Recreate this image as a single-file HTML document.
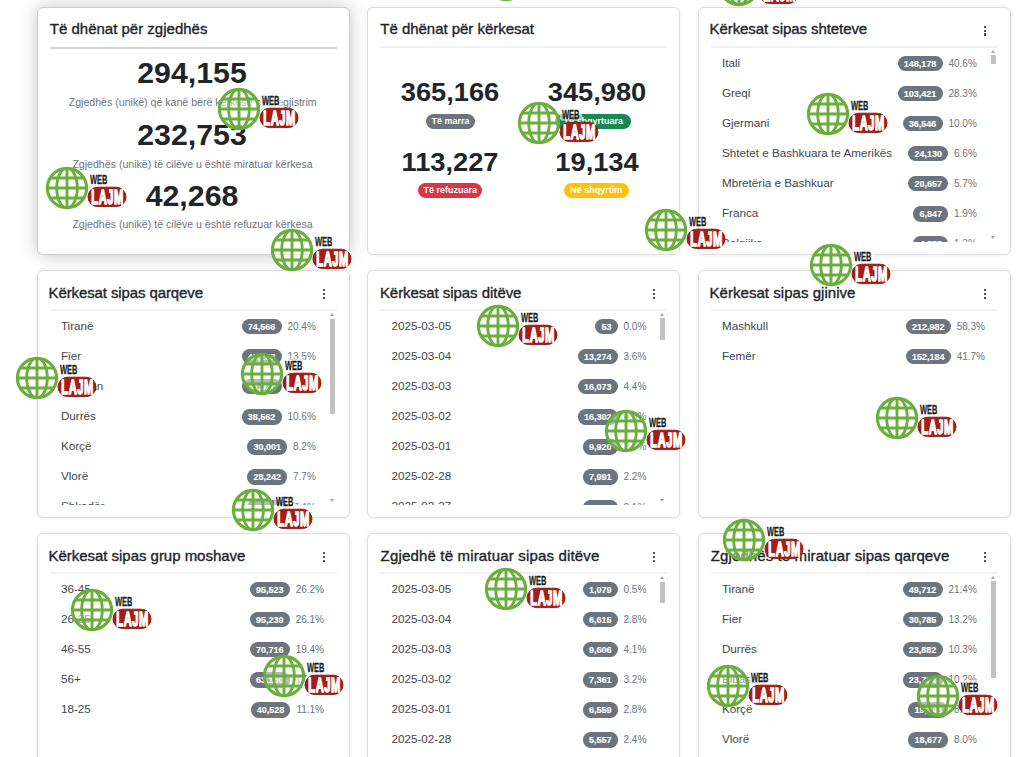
<!DOCTYPE html><html><head><meta charset="utf-8"><style>
html,body{margin:0;padding:0;background:#fff;width:1024px;height:757px;overflow:hidden;position:relative}
*{box-sizing:border-box}
.t{position:absolute;white-space:nowrap;line-height:1;font-family:"Liberation Sans",sans-serif}
.card{position:absolute;background:#fff;border:1px solid #dedede;border-radius:6px;box-shadow:0 0 5px rgba(0,0,0,.07)}
.card.sh{border-color:#cdcdcd;box-shadow:0 0 18px rgba(0,0,0,.24)}
.dv{position:absolute}
.dot{position:absolute;width:2.2px;height:2.2px;background:#343a40;border-radius:0.4px}
.bp{position:absolute}
.clip{position:absolute;overflow:hidden}
.it{font-size:11.7px;color:#41474e}
.grp{position:absolute;display:flex;align-items:center;height:15.3px;white-space:nowrap;font-family:"Liberation Sans",sans-serif}
.bd{display:inline-block;height:15.3px;line-height:16px;padding:0 6.2px;border-radius:7.65px;background:#6c757d;color:#fff;font-weight:700;font-size:9px;-webkit-text-stroke:0.15px #fff}
.pcs{margin-left:5.9px;font-size:10px;color:#6c757d;line-height:15.3px}
.thumb{position:absolute;width:5.4px;background:#c1c1c1}
.arr{position:absolute;width:0;height:0;border-left:2.5px solid transparent;border-right:2.5px solid transparent}
.arr.up{border-bottom:3px solid #a3a3a3}
.arr.dn{border-top:3px solid #a3a3a3}
.wm{position:absolute;width:82px;height:44px;overflow:visible}
</style></head><body>
<svg width="0" height="0" style="position:absolute"><defs>
<g id="wmg">
 <circle cx="0" cy="0" r="19.6" fill="rgba(255,255,255,0.5)" stroke="#6aae3d" stroke-width="3.1"/>
 <clipPath id="gc"><circle cx="0" cy="0" r="19.6"/></clipPath>
 <g clip-path="url(#gc)" stroke="#6aae3d" stroke-width="2.9" fill="none">
  <line x1="-22" y1="-10" x2="22" y2="-10"/>
  <line x1="-22" y1="0" x2="22" y2="0"/>
  <line x1="-22" y1="10" x2="22" y2="10"/>
  <line x1="0" y1="-22" x2="0" y2="22"/>
  <ellipse cx="0" cy="0" rx="10.3" ry="20"/>
 </g>
 <rect x="20.8" y="-15.8" width="22.4" height="13.6" rx="3" fill="rgba(255,255,255,0.6)" stroke="rgba(0,0,0,0.05)" stroke-width="0.6"/>
 <text x="0" y="0" transform="translate(22.9,-4.2) scale(0.6,1)" font-family="Liberation Sans" font-weight="700" font-size="12.5" fill="#1a1a1a" stroke="#1a1a1a" stroke-width="0.25">WEB</text>
 <rect x="21.0" y="-0.8" width="38.0" height="19.4" rx="9.7" fill="#a51d14" stroke="#821911" stroke-width="0.9"/>
 <text x="0" y="0" transform="translate(24.2,16.1) scale(0.53,1)" font-family="Liberation Sans" font-weight="700" font-size="21" letter-spacing="1.2" fill="#fff" stroke="#fff" stroke-width="1.6">LAJM</text>
</g></defs></svg>

<div class="card sh" style="left:37px;top:7px;width:313px;height:248px"></div>
<div class="t" style="left:49.80px;top:21.30px;font-size:15px;font-weight:400;color:#212529;letter-spacing:0px;-webkit-text-stroke:0.35px #212529;">Të dhënat për zgjedhës</div>
<div class="dv" style="left:49.8px;top:46.5px;width:286.9px;height:2px;background:#d4d4d4"></div>
<div class="t" style="left:192.35px;transform:translateX(-50%) scaleX(1.06);top:58.89px;font-size:28.6px;font-weight:700;color:#212529;letter-spacing:0px;">294,155</div>
<div class="t" style="left:192.35px;transform:translateX(-50%) scaleX(1.06);top:121.09px;font-size:28.6px;font-weight:700;color:#212529;letter-spacing:0px;">232,753</div>
<div class="t" style="left:192.35px;transform:translateX(-50%) scaleX(1.06);top:181.79px;font-size:28.6px;font-weight:700;color:#212529;letter-spacing:0px;">42,268</div>
<div class="t" style="left:192.65px;transform:translateX(-50%);top:96.93px;font-size:10.6px;font-weight:400;color:#6c757d;letter-spacing:0px;">Zgjedhës (unikë) që kanë bërë kërkesë për regjistrim</div>
<div class="t" style="left:192.50px;transform:translateX(-50%);top:158.63px;font-size:10.6px;font-weight:400;color:#6c757d;letter-spacing:0px;">Zgjedhës (unikë) të cilëve u është miratuar kërkesa</div>
<div class="t" style="left:192.50px;transform:translateX(-50%);top:219.23px;font-size:10.6px;font-weight:400;color:#6c757d;letter-spacing:0px;">Zgjedhës (unikë) të cilëve u është refuzuar kërkesa</div>
<div class="card" style="left:367px;top:7px;width:313px;height:248px"></div>
<div class="t" style="left:380.30px;top:21.30px;font-size:15px;font-weight:400;color:#212529;letter-spacing:-0.03px;-webkit-text-stroke:0.35px #212529;">Të dhënat për kërkesat</div>
<div class="dv" style="left:380.3px;top:46.0px;width:286.9px;height:2px;background:#eff1f3"></div>
<div class="t" style="left:450.25px;transform:translateX(-50%) scaleX(1.025);top:78.58px;font-size:26.6px;font-weight:700;color:#212529;letter-spacing:0px;">365,166</div>
<div class="t" style="left:596.70px;transform:translateX(-50%) scaleX(1.025);top:78.58px;font-size:26.6px;font-weight:700;color:#212529;letter-spacing:0px;">345,980</div>
<div class="t" style="left:450.40px;transform:translateX(-50%) scaleX(1.025);top:148.98px;font-size:26.6px;font-weight:700;color:#212529;letter-spacing:0px;">113,227</div>
<div class="t" style="left:596.95px;transform:translateX(-50%) scaleX(1.025);top:148.98px;font-size:26.6px;font-weight:700;color:#212529;letter-spacing:0px;">19,134</div>
<div class="bp" style="left:426.10px;top:113.50px;width:48.80px;height:15.10px;background:#6c757d;border-radius:7.55px"></div>
<div class="t" style="left:450.50px;transform:translateX(-50%);top:116.90px;font-size:9px;font-weight:700;color:#fff;letter-spacing:0px;">Të marra</div>
<div class="bp" style="left:555.20px;top:113.60px;width:76.00px;height:15.10px;background:#198754;border-radius:7.55px"></div>
<div class="t" style="left:593.20px;transform:translateX(-50%);top:117.00px;font-size:9px;font-weight:700;color:#fff;letter-spacing:0px;">Të shqyrtuara</div>
<div class="bp" style="left:418.20px;top:182.60px;width:64.10px;height:15.60px;background:#dc3545;border-radius:7.80px"></div>
<div class="t" style="left:450.25px;transform:translateX(-50%);top:186.37px;font-size:9px;font-weight:700;color:#fff;letter-spacing:0px;">Të refuzuara</div>
<div class="bp" style="left:564.00px;top:182.60px;width:64.60px;height:15.60px;background:#ffc107;border-radius:7.80px"></div>
<div class="t" style="left:596.30px;transform:translateX(-50%);top:186.37px;font-size:9px;font-weight:700;color:#fff;letter-spacing:0px;">Në shqyrtim</div>
<div class="card" style="left:698px;top:7px;width:313px;height:248px"></div>
<div class="t" style="left:709.50px;top:21.30px;font-size:15px;font-weight:400;color:#212529;letter-spacing:-0.07px;-webkit-text-stroke:0.35px #212529;">Kërkesat sipas shteteve</div>
<div class="dv" style="left:710.8px;top:46.0px;width:286.9px;height:2px;background:#eff1f3"></div>
<div class="dot" style="left:983.80px;top:25.90px"></div>
<div class="dot" style="left:983.80px;top:29.60px"></div>
<div class="dot" style="left:983.80px;top:33.40px"></div>
<div class="clip" style="left:710.8px;top:48.50px;width:286.9px;height:193.20px">
<div class="t it" style="left:11.10px;top:8.20px">Itali</div>
<div class="grp" style="right:20.90px;top:7.30px"><span class="bd">148,178</span><span class="pcs">40.6%</span></div>
<div class="t it" style="left:11.10px;top:38.30px">Greqi</div>
<div class="grp" style="right:20.90px;top:37.40px"><span class="bd">103,421</span><span class="pcs">28.3%</span></div>
<div class="t it" style="left:11.10px;top:68.40px">Gjermani</div>
<div class="grp" style="right:20.90px;top:67.50px"><span class="bd">36,546</span><span class="pcs">10.0%</span></div>
<div class="t it" style="left:11.10px;top:98.50px">Shtetet e Bashkuara te Amerikës</div>
<div class="grp" style="right:20.90px;top:97.60px"><span class="bd">24,130</span><span class="pcs">6.6%</span></div>
<div class="t it" style="left:11.10px;top:128.60px">Mbretëria e Bashkuar</div>
<div class="grp" style="right:20.90px;top:127.70px"><span class="bd">20,657</span><span class="pcs">5.7%</span></div>
<div class="t it" style="left:11.10px;top:158.70px">Franca</div>
<div class="grp" style="right:20.90px;top:157.80px"><span class="bd">6,847</span><span class="pcs">1.9%</span></div>
<div class="t it" style="left:11.10px;top:188.80px">Belgjika</div>
<div class="grp" style="right:20.90px;top:187.90px"><span class="bd">4,883</span><span class="pcs">1.3%</span></div>
</div>
<div class="arr up" style="left:990.80px;top:50.10px"></div>
<div class="arr dn" style="left:990.80px;top:235.50px"></div>
<div class="thumb" style="left:990.60px;top:55.40px;height:8.30px"></div>
<div class="card" style="left:37px;top:270px;width:313px;height:248px"></div>
<div class="t" style="left:48.60px;top:284.50px;font-size:15px;font-weight:400;color:#212529;letter-spacing:-0.11px;-webkit-text-stroke:0.35px #212529;">Kërkesat sipas qarqeve</div>
<div class="dv" style="left:49.8px;top:309.2px;width:286.9px;height:2px;background:#eff1f3"></div>
<div class="dot" style="left:322.80px;top:289.10px"></div>
<div class="dot" style="left:322.80px;top:292.80px"></div>
<div class="dot" style="left:322.80px;top:296.60px"></div>
<div class="clip" style="left:49.8px;top:311.70px;width:286.9px;height:193.20px">
<div class="t it" style="left:11.10px;top:8.20px">Tiranë</div>
<div class="grp" style="right:20.90px;top:7.30px"><span class="bd">74,566</span><span class="pcs">20.4%</span></div>
<div class="t it" style="left:11.10px;top:38.30px">Fier</div>
<div class="grp" style="right:20.90px;top:37.40px"><span class="bd">49,298</span><span class="pcs">13.5%</span></div>
<div class="t it" style="left:11.10px;top:68.40px">Elbasan</div>
<div class="grp" style="right:20.90px;top:67.50px"><span class="bd">41,020</span><span class="pcs">11.2%</span></div>
<div class="t it" style="left:11.10px;top:98.50px">Durrës</div>
<div class="grp" style="right:20.90px;top:97.60px"><span class="bd">38,562</span><span class="pcs">10.6%</span></div>
<div class="t it" style="left:11.10px;top:128.60px">Korçë</div>
<div class="grp" style="right:20.90px;top:127.70px"><span class="bd">30,001</span><span class="pcs">8.2%</span></div>
<div class="t it" style="left:11.10px;top:158.70px">Vlorë</div>
<div class="grp" style="right:20.90px;top:157.80px"><span class="bd">28,242</span><span class="pcs">7.7%</span></div>
<div class="t it" style="left:11.10px;top:188.80px">Shkodër</div>
<div class="grp" style="right:20.90px;top:187.90px"><span class="bd">27,102</span><span class="pcs">7.4%</span></div>
</div>
<div class="arr up" style="left:329.80px;top:313.30px"></div>
<div class="arr dn" style="left:329.80px;top:498.70px"></div>
<div class="thumb" style="left:329.60px;top:318.80px;height:95.40px"></div>
<div class="card" style="left:367px;top:270px;width:313px;height:248px"></div>
<div class="t" style="left:379.90px;top:284.50px;font-size:15px;font-weight:400;color:#212529;letter-spacing:-0.05px;-webkit-text-stroke:0.35px #212529;">Kërkesat sipas ditëve</div>
<div class="dv" style="left:380.3px;top:309.2px;width:286.9px;height:2px;background:#eff1f3"></div>
<div class="dot" style="left:653.30px;top:289.10px"></div>
<div class="dot" style="left:653.30px;top:292.80px"></div>
<div class="dot" style="left:653.30px;top:296.60px"></div>
<div class="clip" style="left:380.3px;top:311.70px;width:286.9px;height:193.20px">
<div class="t it" style="left:11.10px;top:8.20px">2025-03-05</div>
<div class="grp" style="right:20.90px;top:7.30px"><span class="bd">53</span><span class="pcs">0.0%</span></div>
<div class="t it" style="left:11.10px;top:38.30px">2025-03-04</div>
<div class="grp" style="right:20.90px;top:37.40px"><span class="bd">13,274</span><span class="pcs">3.6%</span></div>
<div class="t it" style="left:11.10px;top:68.40px">2025-03-03</div>
<div class="grp" style="right:20.90px;top:67.50px"><span class="bd">16,073</span><span class="pcs">4.4%</span></div>
<div class="t it" style="left:11.10px;top:98.50px">2025-03-02</div>
<div class="grp" style="right:20.90px;top:97.60px"><span class="bd">16,302</span><span class="pcs">4.5%</span></div>
<div class="t it" style="left:11.10px;top:128.60px">2025-03-01</div>
<div class="grp" style="right:20.90px;top:127.70px"><span class="bd">9,920</span><span class="pcs">2.7%</span></div>
<div class="t it" style="left:11.10px;top:158.70px">2025-02-28</div>
<div class="grp" style="right:20.90px;top:157.80px"><span class="bd">7,991</span><span class="pcs">2.2%</span></div>
<div class="t it" style="left:11.10px;top:188.80px">2025-02-27</div>
<div class="grp" style="right:20.90px;top:187.90px"><span class="bd">7,642</span><span class="pcs">2.1%</span></div>
</div>
<div class="arr up" style="left:660.30px;top:313.30px"></div>
<div class="arr dn" style="left:660.30px;top:498.70px"></div>
<div class="thumb" style="left:660.10px;top:318.40px;height:21.20px"></div>
<div class="card" style="left:698px;top:270px;width:313px;height:248px"></div>
<div class="t" style="left:709.50px;top:284.50px;font-size:15px;font-weight:400;color:#212529;letter-spacing:0.04px;-webkit-text-stroke:0.35px #212529;">Kërkesat sipas gjinive</div>
<div class="dv" style="left:710.8px;top:309.2px;width:286.9px;height:2px;background:#eff1f3"></div>
<div class="dot" style="left:983.80px;top:289.10px"></div>
<div class="dot" style="left:983.80px;top:292.80px"></div>
<div class="dot" style="left:983.80px;top:296.60px"></div>
<div class="clip" style="left:710.8px;top:311.70px;width:286.9px;height:193.20px">
<div class="t it" style="left:11.10px;top:8.20px">Mashkull</div>
<div class="grp" style="right:12.70px;top:7.30px"><span class="bd">212,982</span><span class="pcs">58.3%</span></div>
<div class="t it" style="left:11.10px;top:38.30px">Femër</div>
<div class="grp" style="right:12.70px;top:37.40px"><span class="bd">152,184</span><span class="pcs">41.7%</span></div>
</div>
<div class="card" style="left:37px;top:533px;width:313px;height:248px"></div>
<div class="t" style="left:48.50px;top:547.50px;font-size:15px;font-weight:400;color:#212529;letter-spacing:-0.03px;-webkit-text-stroke:0.35px #212529;">Kërkesat sipas grup moshave</div>
<div class="dv" style="left:49.8px;top:572.2px;width:286.9px;height:2px;background:#eff1f3"></div>
<div class="dot" style="left:322.80px;top:552.10px"></div>
<div class="dot" style="left:322.80px;top:555.80px"></div>
<div class="dot" style="left:322.80px;top:559.60px"></div>
<div class="clip" style="left:49.8px;top:574.70px;width:286.9px;height:193.20px">
<div class="t it" style="left:11.10px;top:8.20px">36-45</div>
<div class="grp" style="right:12.70px;top:7.30px"><span class="bd">95,523</span><span class="pcs">26.2%</span></div>
<div class="t it" style="left:11.10px;top:38.30px">26-35</div>
<div class="grp" style="right:12.70px;top:37.40px"><span class="bd">95,239</span><span class="pcs">26.1%</span></div>
<div class="t it" style="left:11.10px;top:68.40px">46-55</div>
<div class="grp" style="right:12.70px;top:67.50px"><span class="bd">70,716</span><span class="pcs">19.4%</span></div>
<div class="t it" style="left:11.10px;top:98.50px">56+</div>
<div class="grp" style="right:12.70px;top:97.60px"><span class="bd">63,160</span><span class="pcs">17.3%</span></div>
<div class="t it" style="left:11.10px;top:128.60px">18-25</div>
<div class="grp" style="right:12.70px;top:127.70px"><span class="bd">40,528</span><span class="pcs">11.1%</span></div>
</div>
<div class="card" style="left:367px;top:533px;width:313px;height:248px"></div>
<div class="t" style="left:380.60px;top:547.50px;font-size:15px;font-weight:400;color:#212529;letter-spacing:0.17px;-webkit-text-stroke:0.35px #212529;">Zgjedhë të miratuar sipas ditëve</div>
<div class="dv" style="left:380.3px;top:572.2px;width:286.9px;height:2px;background:#eff1f3"></div>
<div class="dot" style="left:653.30px;top:552.10px"></div>
<div class="dot" style="left:653.30px;top:555.80px"></div>
<div class="dot" style="left:653.30px;top:559.60px"></div>
<div class="clip" style="left:380.3px;top:574.70px;width:286.9px;height:193.20px">
<div class="t it" style="left:11.10px;top:8.20px">2025-03-05</div>
<div class="grp" style="right:20.90px;top:7.30px"><span class="bd">1,079</span><span class="pcs">0.5%</span></div>
<div class="t it" style="left:11.10px;top:38.30px">2025-03-04</div>
<div class="grp" style="right:20.90px;top:37.40px"><span class="bd">6,615</span><span class="pcs">2.8%</span></div>
<div class="t it" style="left:11.10px;top:68.40px">2025-03-03</div>
<div class="grp" style="right:20.90px;top:67.50px"><span class="bd">9,606</span><span class="pcs">4.1%</span></div>
<div class="t it" style="left:11.10px;top:98.50px">2025-03-02</div>
<div class="grp" style="right:20.90px;top:97.60px"><span class="bd">7,361</span><span class="pcs">3.2%</span></div>
<div class="t it" style="left:11.10px;top:128.60px">2025-03-01</div>
<div class="grp" style="right:20.90px;top:127.70px"><span class="bd">6,559</span><span class="pcs">2.8%</span></div>
<div class="t it" style="left:11.10px;top:158.70px">2025-02-28</div>
<div class="grp" style="right:20.90px;top:157.80px"><span class="bd">5,557</span><span class="pcs">2.4%</span></div>
<div class="t it" style="left:11.10px;top:188.80px">2025-02-27</div>
<div class="grp" style="right:20.90px;top:187.90px"><span class="bd">4,980</span><span class="pcs">2.1%</span></div>
</div>
<div class="arr up" style="left:660.30px;top:576.30px"></div>
<div class="arr dn" style="left:660.30px;top:761.70px"></div>
<div class="thumb" style="left:660.10px;top:581.70px;height:21.50px"></div>
<div class="card" style="left:698px;top:533px;width:313px;height:248px"></div>
<div class="t" style="left:710.80px;top:547.50px;font-size:15px;font-weight:400;color:#212529;letter-spacing:0.1px;-webkit-text-stroke:0.35px #212529;">Zgjedhës të miratuar sipas qarqeve</div>
<div class="dv" style="left:710.8px;top:572.2px;width:286.9px;height:2px;background:#eff1f3"></div>
<div class="dot" style="left:983.80px;top:552.10px"></div>
<div class="dot" style="left:983.80px;top:555.80px"></div>
<div class="dot" style="left:983.80px;top:559.60px"></div>
<div class="clip" style="left:710.8px;top:574.70px;width:286.9px;height:193.20px">
<div class="t it" style="left:11.10px;top:8.20px">Tiranë</div>
<div class="grp" style="right:20.90px;top:7.30px"><span class="bd">49,712</span><span class="pcs">21.4%</span></div>
<div class="t it" style="left:11.10px;top:38.30px">Fier</div>
<div class="grp" style="right:20.90px;top:37.40px"><span class="bd">30,785</span><span class="pcs">13.2%</span></div>
<div class="t it" style="left:11.10px;top:68.40px">Durrës</div>
<div class="grp" style="right:20.90px;top:67.50px"><span class="bd">23,882</span><span class="pcs">10.3%</span></div>
<div class="t it" style="left:11.10px;top:98.50px">Elbasan</div>
<div class="grp" style="right:20.90px;top:97.60px"><span class="bd">23,724</span><span class="pcs">10.2%</span></div>
<div class="t it" style="left:11.10px;top:128.60px">Korçë</div>
<div class="grp" style="right:20.90px;top:127.70px"><span class="bd">19,348</span><span class="pcs">8.3%</span></div>
<div class="t it" style="left:11.10px;top:158.70px">Vlorë</div>
<div class="grp" style="right:20.90px;top:157.80px"><span class="bd">18,677</span><span class="pcs">8.0%</span></div>
<div class="t it" style="left:11.10px;top:188.80px">Shkodër</div>
<div class="grp" style="right:20.90px;top:187.90px"><span class="bd">17,020</span><span class="pcs">7.3%</span></div>
</div>
<div class="arr up" style="left:990.80px;top:576.30px"></div>
<div class="arr dn" style="left:990.80px;top:761.70px"></div>
<div class="thumb" style="left:990.60px;top:581.20px;height:96.70px"></div>
<svg class="wm" style="left:484.10px;top:-42.05px" viewBox="-22 -22 82 44"><use href="#wmg"/></svg>
<svg class="wm" style="left:716.60px;top:-36.85px" viewBox="-22 -22 82 44"><use href="#wmg"/></svg>
<svg class="wm" style="left:216.80px;top:87.25px" viewBox="-22 -22 82 44"><use href="#wmg"/></svg>
<svg class="wm" style="left:45.00px;top:166.25px" viewBox="-22 -22 82 44"><use href="#wmg"/></svg>
<svg class="wm" style="left:269.90px;top:228.25px" viewBox="-22 -22 82 44"><use href="#wmg"/></svg>
<svg class="wm" style="left:517.40px;top:100.75px" viewBox="-22 -22 82 44"><use href="#wmg"/></svg>
<svg class="wm" style="left:643.50px;top:207.85px" viewBox="-22 -22 82 44"><use href="#wmg"/></svg>
<svg class="wm" style="left:805.50px;top:92.25px" viewBox="-22 -22 82 44"><use href="#wmg"/></svg>
<svg class="wm" style="left:809.40px;top:242.95px" viewBox="-22 -22 82 44"><use href="#wmg"/></svg>
<svg class="wm" style="left:14.80px;top:355.65px" viewBox="-22 -22 82 44"><use href="#wmg"/></svg>
<svg class="wm" style="left:239.60px;top:352.25px" viewBox="-22 -22 82 44"><use href="#wmg"/></svg>
<svg class="wm" style="left:475.70px;top:303.55px" viewBox="-22 -22 82 44"><use href="#wmg"/></svg>
<svg class="wm" style="left:603.80px;top:408.75px" viewBox="-22 -22 82 44"><use href="#wmg"/></svg>
<svg class="wm" style="left:875.00px;top:396.25px" viewBox="-22 -22 82 44"><use href="#wmg"/></svg>
<svg class="wm" style="left:230.90px;top:487.55px" viewBox="-22 -22 82 44"><use href="#wmg"/></svg>
<svg class="wm" style="left:722.00px;top:517.85px" viewBox="-22 -22 82 44"><use href="#wmg"/></svg>
<svg class="wm" style="left:69.90px;top:587.85px" viewBox="-22 -22 82 44"><use href="#wmg"/></svg>
<svg class="wm" style="left:262.40px;top:653.55px" viewBox="-22 -22 82 44"><use href="#wmg"/></svg>
<svg class="wm" style="left:484.10px;top:567.25px" viewBox="-22 -22 82 44"><use href="#wmg"/></svg>
<svg class="wm" style="left:705.90px;top:663.75px" viewBox="-22 -22 82 44"><use href="#wmg"/></svg>
<svg class="wm" style="left:915.60px;top:674.45px" viewBox="-22 -22 82 44"><use href="#wmg"/></svg>
</body></html>
